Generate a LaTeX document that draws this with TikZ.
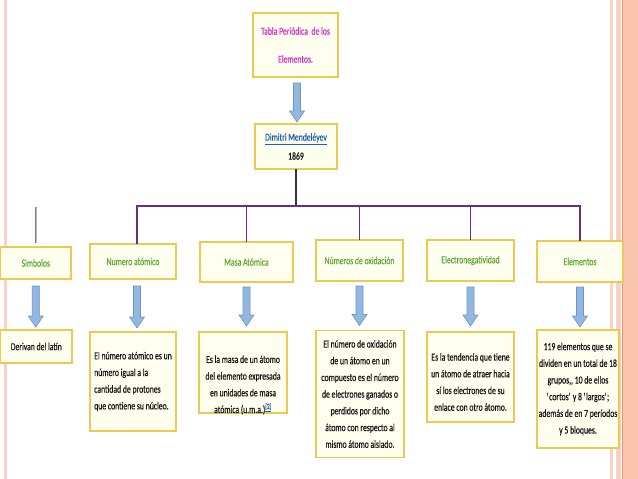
\documentclass[tikz,border=0pt]{standalone}
\usepackage{fontspec}
\setmainfont[FakeStretch=0.72,FakeBold=0.5]{Carlito}
\usetikzlibrary{calc}
\definecolor{boxline}{HTML}{EEC850}
\definecolor{boxfill}{HTML}{FFFFF0}
\definecolor{hgreen}{HTML}{62A838}
\definecolor{magt}{HTML}{D62EC6}
\definecolor{linkb}{HTML}{2160B0}
\definecolor{purp}{HTML}{6B2D7D}
\definecolor{darkl}{HTML}{3E2E48}
\definecolor{arrfill}{HTML}{93B7E1}
\definecolor{arrline}{HTML}{6E95C6}
\definecolor{salm}{HTML}{FBC4AE}
\definecolor{salmlight}{HTML}{F8D2C4}
\definecolor{salmdark}{HTML}{E8946E}
\definecolor{txtc}{HTML}{151515}
\tikzset{
  box/.style={draw=boxline, fill=boxfill, line width=1.3pt, inner sep=0pt, outer sep=0pt,
    rectangle, font=\fontsize{10.7}{16.7}\selectfont, align=center, text=txtc},
  head/.style={box, text=hgreen},
  txt/.style={inner sep=0pt, font=\fontsize{10.7}{16.7}\selectfont, text=txtc},
  conn/.style={draw=purp, line width=1.6pt},
  mline/.style={draw=darkl, line width=1.1pt},
  barr/.style={fill=arrfill, draw=arrline, line width=0.6pt},
}
\newcommand\blockarr[2]{%
  \path[barr] let \p1=(#1), \p2=(#2) in
    (\x1-3.5pt,\y1) -- (\x1+3.5pt,\y1) -- (\x1+3.5pt,\y2+11pt) -- (\x1+7.5pt,\y2+11pt)
    -- (\x1,\y2) -- (\x1-7.5pt,\y2+11pt) -- (\x1-3.5pt,\y2+11pt) -- cycle;}
\begin{document}
\begin{tikzpicture}[x=1pt,y=-1pt]
\useasboundingbox (0,0) rectangle (638,479);
\fill[white] (0,0) rectangle (638,479);
% page decoration
\fill[salmlight] (4,0) rectangle (6.5,479);
\fill[salmlight] (610,0) rectangle (613,479);
\fill[salmlight] (616,0) rectangle (621,479);
\fill[salmdark] (621.5,0) rectangle (623,479);
\fill[salm] (623,0) rectangle (638,479);

% top
\node[box, minimum width=85pt, minimum height=64pt, font=\fontsize{10.7}{28}\selectfont, text=magt]
  (t) at (295.5,45) {Tabla Periódica\ \ de los\\Elementos.};
\node[box, minimum width=82pt, minimum height=45pt, font=\fontsize{10.7}{19}\selectfont]
  (m) at (296,146.5) {\textcolor{linkb}{\underline{Dimitri Mendeléyev}}\\1869};

% headers
\node[head, minimum width=70.5pt, minimum height=32pt] (h1) at (35.75,263) {Simbolos};
\node[head, minimum width=86pt, minimum height=35pt] (h2) at (133,261.5) {Numero atómico};
\node[head, minimum width=93pt, minimum height=40pt] (h3) at (246.5,262) {Masa Atómica};
\node[head, minimum width=87pt, minimum height=41pt] (h4) at (359.5,260.5) {Números de oxidación};
\node[head, minimum width=87pt, minimum height=41pt] (h5) at (470.5,260.5) {Electronegatividad};
\node[head, minimum width=86pt, minimum height=41pt] (h6) at (580,261.5) {Elementos};

% bottom boxes
\node[box, minimum width=71.5pt, minimum height=33pt] (b1) at (36.25,346.5) {Derivan del latín};
\node[box, minimum width=86pt, minimum height=99pt, align=left] (b2) at (133,381.5)
  {El número atómico es un\\número igual a la\hspace{18pt}\\cantidad de protones\hspace{6pt}\\que contiene su núcleo.};
\node[box, minimum width=88pt, minimum height=81pt] (b3) at (243,372.5) {};
\node[txt, align=center] (b3t) at (243,385)
  {Es la masa de un átomo\\del elemento expresada\\en unidades de masa\\atómica (u.m.a.)\textsuperscript{\textcolor{linkb}{\underline{[2]}}}};
\node[box, minimum width=88pt, minimum height=127pt] (b4) at (360,394)
  {El número de oxidación\\de un átomo en un\\compuesto es el número\\de electrones ganados o\\perdidos por dicho\\átomo con respecto al\\mismo átomo aislado.};
\node[box, minimum width=87pt, minimum height=90pt] (b5) at (470.5,377) {};
\node[txt, align=center] (b5t) at (470.5,382)
  {Es la tendencia que tiene\\un átomo de atraer hacia\\sí los electrones de su\\enlace con otro átomo.};
\node[box, minimum width=82pt, minimum height=118pt] (b6) at (578,389)
  {119 elementos que se\\dividen en un total de 18\\grupos,{},{} 10 de ellos\\\textquotesingle cortos\textquotesingle{} y 8 \textquotesingle largos\textquotesingle;\\además de en 7 períodos\\y 5 bloques.};

% connectors
\coordinate (bar) at (297,206);
\draw[mline] (m.south) -- (m.south |- bar);
\draw[conn] ([xshift=4pt]h2.north) |- (h6.north |- bar) -- (h6.north);
\draw[conn] (h3.north |- bar) -- (h3.north);
\draw[conn] (h4.north |- bar) -- (h4.north);
\draw[conn] (h5.north |- bar) -- (h5.north);
\coordinate (symtop) at (36,207);
\draw[mline, line width=1pt] (symtop) -- ([yshift=4pt]h1.north);

% block arrows
\coordinate (a0s) at ($(t.south)+(1.5,6)$);
\coordinate (a0e) at ($(m.north)+(1,-2)$);
\blockarr{a0s}{a0e}
\coordinate (a1s) at ($(h1.south)+(0,7)$);
\coordinate (a1e) at ($(b1.north)+(0,-3)$);
\blockarr{a1s}{a1e}
\coordinate (a2s) at ($(h2.south)+(4,7)$);
\coordinate (a2e) at ($(b2.north)+(4,-4)$);
\blockarr{a2s}{a2e}
\coordinate (a3s) at ($(h3.south)+(0,5)$);
\coordinate (a3e) at ($(b3.north)+(4,-6)$);
\blockarr{a3s}{a3e}
\coordinate (a4s) at ($(h4.south)+(0,5)$);
\coordinate (a4e) at ($(b4.north)+(0,-5)$);
\blockarr{a4s}{a4e}
\coordinate (a5s) at ($(h5.south)+(0,6)$);
\coordinate (a5e) at ($(b5.north)+(0,-6)$);
\blockarr{a5s}{a5e}
\coordinate (a6s) at ($(h6.south)+(0,5)$);
\coordinate (a6e) at ($(b6.north)+(2,-3)$);
\blockarr{a6s}{a6e}
\end{tikzpicture}
\end{document}
